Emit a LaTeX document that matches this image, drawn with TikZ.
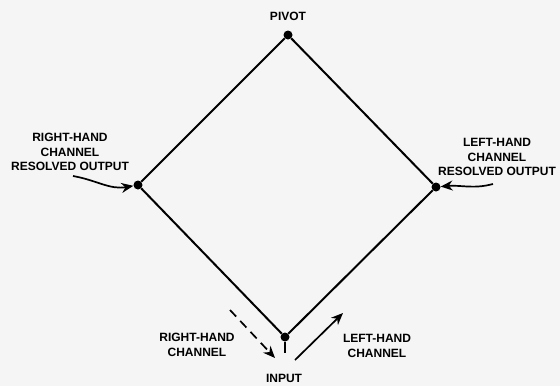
\documentclass[tikz,border=0pt]{standalone}
\usepackage{fontspec}
\setmainfont{Liberation Sans}
\usetikzlibrary{arrows.meta}
\tikzset{
  joint/.style={circle,fill=black,inner sep=0pt,minimum size=9pt},
  tag/.style={font=\bfseries\fontsize{12}{14.5}\selectfont,align=center,inner sep=0pt},
  wire/.style={line width=2pt},
  pointer/.style={line width=1.7pt,-{Stealth[length=12pt,width=10pt]}}
}
\begin{document}
\begin{tikzpicture}[x=1pt,y=-1pt]
           \fill[black!4] (0,0) rectangle (560,386);
           \useasboundingbox (0,0) rectangle (560,386);
           \node at (288,35)  [joint] (pivot) {};
           \node at (138,185) [joint] (rout) {};
           \node at (436,187) [joint] (lout) {};
           \node at (285,337) [joint] (input) {};
           \coordinate (stub) at (285,353);
            \draw[wire] (pivot) to (rout);
            \draw[wire] (pivot) to (lout);
            \draw[wire] (rout) to (input);
            \draw[wire] (lout) to (input);
            \draw[wire] (input) to (stub);
            \node at (288,16) [tag] (pivotlbl) {PIVOT};
            \node at (284,378) [tag] (inputlbl) {INPUT};
            \node at (70,152) [tag] (routlbl) {RIGHT-HAND\\CHANNEL\\RESOLVED OUTPUT};
            \node at (497,157) [tag] (loutlbl) {LEFT-HAND\\CHANNEL\\RESOLVED OUTPUT};
            \node at (197,345) [tag] (rinlbl) {RIGHT-HAND\\CHANNEL};
            \node at (377,346) [tag] (linlbl) {LEFT-HAND\\CHANNEL};
            % channel arrows at the input
            \coordinate (rtail) at (230,310); \coordinate (rhead) at (275,358);
            \coordinate (ltail) at (295,360); \coordinate (lhead) at (343,313);
            \draw[pointer,dash pattern=on 9pt off 6pt] (rtail) to (rhead);
            \draw[pointer] (ltail) to (lhead);
            % resolved outputs
            \coordinate (rfrom) at (73,176); \coordinate (lfrom) at (493,184);
            \draw[pointer] (rfrom) to [out=-10,in=190] (rout);
            \draw[pointer] (lfrom) to [out=195,in=5] (lout);
        \end{tikzpicture}
\end{document}
